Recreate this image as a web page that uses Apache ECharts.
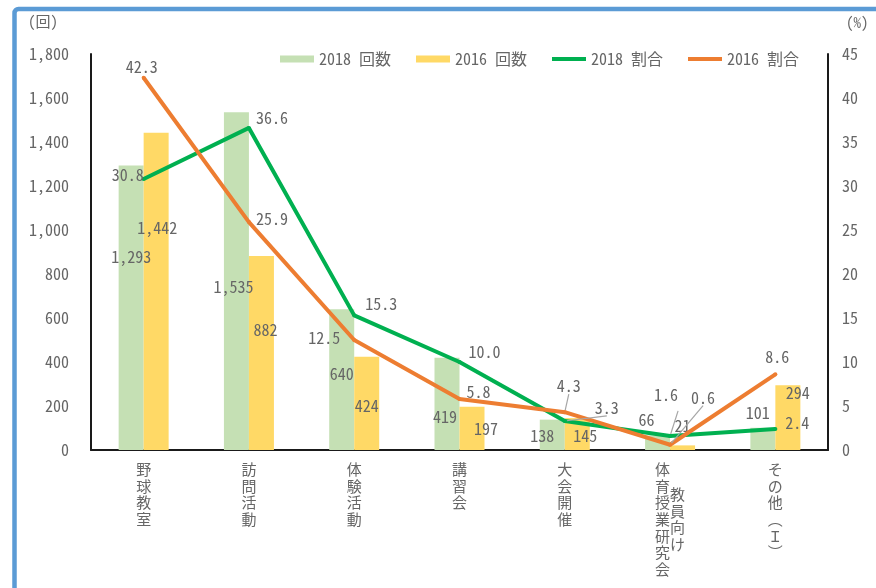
<!DOCTYPE html>
<html>
<head>
<meta charset="utf-8">
<script src="https://cdn.jsdelivr.net/npm/echarts@6/dist/echarts.min.js"></script>
<style>
  html, body { margin: 0; padding: 0; background: #fff; }
  #chart { width: 876px; height: 588px; }
</style>
</head>
<body>
<div id="chart"></div>
<script>
// 区分（縦書き。"\n" 以降は左側の列）
const categories = ['野球教室', '訪問活動', '体験活動', '講習会', '大会開催', '教員向け\n体育授業研究会', 'その他（Ｉ）'];
// 回数
const count2018 = [1293, 1535, 640, 419, 138, 66, 101];
const count2016 = [1442, 882, 424, 197, 145, 21, 294];
// 割合（%）
const share2018 = [30.8, 36.6, 15.3, 10.0, 3.3, 1.6, 2.4];
const share2016 = [42.3, 25.9, 12.5, 5.8, 4.3, 0.6, 8.6];
// 軸の目盛
const countAxis = { min: 0, max: 1800, interval: 200 };
const shareAxis = { min: 0, max: 45, interval: 5 };

// ラベル位置の微調整（px）
const offCount2018 = [[0, -51], [-3, 6], [0, -6], [-2, 13], [-10, 1], [-11, -23], [-5, -26]];
const offCount2016 = [[1, -63], [4, -23], [0, 3], [14, 1], [8, 2], [0, -22], [10, -25]];
const offShare2018 = [[-16, -4], [23, -10], [27, -11], [25, -10], [42, -13], [-4, -41], [22, -6]];
const offShare2016 = [[-2, -11], [23, -3], [-30, -2], [19, -7], [4, -26], [33, -47], [2, -17]];
const leaderShare2018 = [4, 5];
const leaderShare2016 = [4, 5];

const GRAY = '#666666';
const NUM_FONT = '"Noto Sans Mono CJK JP", "Noto Sans CJK JP", monospace';
const JP_FONT = '"Noto Sans CJK JP", sans-serif';
// 折れ線の凡例用アイコン（細い帯）
const LINE_ICON = 'path://M0,0H36V4.2H0Z';

function withComma(v) {
  return String(v).replace(/\B(?=(\d{3})+(?!\d))/g, ',');
}

// 縦書きラベル：半行単位で行を組み、右列は1.5文字分下げる
function verticalLabel(name) {
  const vmap = { '（': '︵', '）': '︶' };
  const cols = name.split('\n').map(s => Array.from(s).map(c => vmap[c] || c));
  if (cols.length === 1) return cols[0].join('\n\n');
  const right = cols[0], left = cols[1];
  const rightStart = 3;
  const total = Math.max(left.length * 2 - 1, rightStart + right.length * 2 - 1);
  const lines = [];
  for (let h = 0; h < total; h++) {
    const l = (h % 2 === 0 && left[h / 2]) || '';
    const k = h - rightStart;
    const r = (k >= 0 && k % 2 === 0 && right[k / 2]) || '';
    if (!l && !r) lines.push('');
    else lines.push((l || '　') + (r || '　'));
  }
  return lines.join('\n');
}

function barData(values, offsets) {
  return values.map((v, i) => ({
    value: v,
    label: { offset: offsets[i] }
  }));
}

function lineData(values, offsets, leaders) {
  return values.map((v, i) => {
    const item = { value: v, label: { offset: offsets[i] } };
    if (leaders.indexOf(i) >= 0) {
      item.labelLine = { show: true, lineStyle: { color: '#a6a6a6', width: 1.2 } };
    }
    return item;
  });
}

const chart = echarts.init(document.getElementById('chart'), null, { renderer: 'canvas' });

const labelText = { color: GRAY, fontSize: 16, fontFamily: NUM_FONT };

chart.setOption({
  animation: false,
  backgroundColor: '#fff',
  textStyle: { fontFamily: NUM_FONT },
  graphic: [
    {
      type: 'rect',
      shape: { x: 14.5, y: 9, width: 920, height: 640, r: 4 },
      style: { fill: 'none', stroke: '#5B9BD5', lineWidth: 4.5 },
      silent: true
    },
    {
      type: 'text', left: 28, top: 14,
      style: { text: '(回)', fill: GRAY, font: '15px ' + NUM_FONT }
    },
    {
      type: 'text', left: 846, top: 15,
      style: { text: '(%)', fill: GRAY, font: '15px ' + NUM_FONT }
    }
  ],
  legend: {
    left: 275,
    top: 46,
    itemWidth: 34,
    itemHeight: 7,
    itemGap: 25,
    textStyle: { color: GRAY, fontSize: 16, fontFamily: NUM_FONT },
    data: [
      { name: '2018 回数', icon: 'rect' },
      { name: '2016 回数', icon: 'rect' },
      { name: '2018 割合', icon: LINE_ICON },
      { name: '2016 割合', icon: LINE_ICON }
    ]
  },
  grid: { left: 91, right: 48, top: 54, bottom: 138 },
  xAxis: {
    type: 'category',
    data: categories,
    axisLine: { show: true, lineStyle: { color: '#1a1a1a', width: 2 } },
    axisTick: { show: false },
    axisLabel: {
      interval: 0,
      margin: 15,
      color: GRAY,
      fontSize: 15,
      fontFamily: JP_FONT,
      lineHeight: 8.35,
      formatter: verticalLabel
    }
  },
  yAxis: [
    {
      type: 'value',
      min: countAxis.min, max: countAxis.max, interval: countAxis.interval,
      axisLine: { show: true, lineStyle: { color: '#1a1a1a', width: 2 } },
      axisTick: { show: false },
      splitLine: { show: false },
      axisLabel: { color: GRAY, fontSize: 16, fontFamily: NUM_FONT, margin: 22, formatter: withComma }
    },
    {
      type: 'value',
      min: shareAxis.min, max: shareAxis.max, interval: shareAxis.interval,
      axisLine: { show: true, lineStyle: { color: '#1a1a1a', width: 2 } },
      axisTick: { show: false },
      splitLine: { show: false },
      axisLabel: { color: GRAY, fontSize: 16, fontFamily: NUM_FONT, margin: 14 }
    }
  ],
  series: [
    {
      name: '2018 回数',
      type: 'bar',
      yAxisIndex: 0,
      barWidth: 25,
      barGap: '0%',
      itemStyle: { color: '#C5E0B4' },
      label: Object.assign({ show: true, position: 'inside', formatter: p => withComma(p.value) }, labelText),
      data: barData(count2018, offCount2018)
    },
    {
      name: '2016 回数',
      type: 'bar',
      yAxisIndex: 0,
      barWidth: 25,
      barGap: '0%',
      itemStyle: { color: '#FFD966' },
      label: Object.assign({ show: true, position: 'inside', formatter: p => withComma(p.value) }, labelText),
      data: barData(count2016, offCount2016)
    },
    {
      name: '2018 割合',
      type: 'line',
      yAxisIndex: 1,
      symbol: 'circle',
      symbolSize: 4,
      itemStyle: { color: '#00B050' },
      lineStyle: { color: '#00B050', width: 4 },
      label: Object.assign({ show: true, position: 'inside', formatter: p => p.value.toFixed(1) }, labelText),
      data: lineData(share2018, offShare2018, leaderShare2018),
      z: 3
    },
    {
      name: '2016 割合',
      type: 'line',
      yAxisIndex: 1,
      symbol: 'circle',
      symbolSize: 4,
      itemStyle: { color: '#ED7D31' },
      lineStyle: { color: '#ED7D31', width: 4 },
      label: Object.assign({ show: true, position: 'inside', formatter: p => p.value.toFixed(1) }, labelText),
      data: lineData(share2016, offShare2016, leaderShare2016),
      z: 3
    }
  ]
});
</script>
</body>
</html>
